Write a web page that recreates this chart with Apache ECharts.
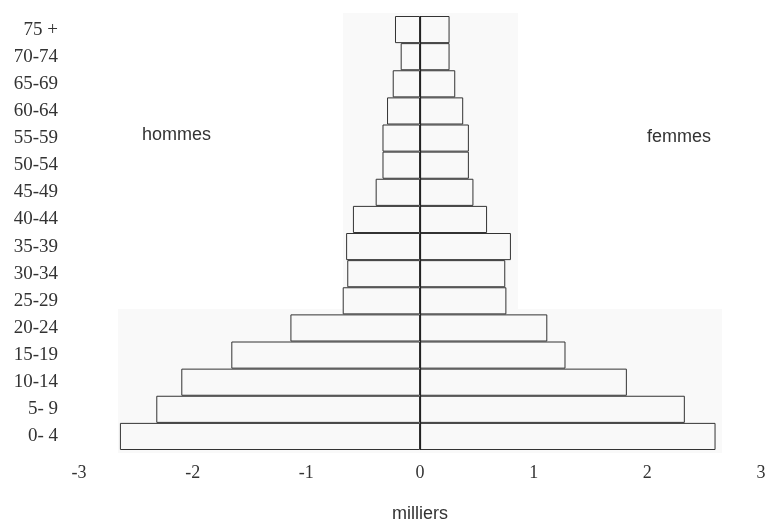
<!DOCTYPE html>
<html>
<head>
<meta charset="utf-8">
<title>Pyramide des âges</title>
<script src="https://cdn.jsdelivr.net/npm/echarts@6/dist/echarts.min.js"></script>
<style>
html, body { margin: 0; padding: 0; background: #fff; }
#chart { width: 767px; height: 520px; }
</style>
</head>
<body>
<div id="chart"></div>
<script>
// groupes d'âge (du bas vers le haut)
var ages = ['0- 4', '5- 9', '10-14', '15-19', '20-24', '25-29', '30-34', '35-39',
            '40-44', '45-49', '50-54', '55-59', '60-64', '65-69', '70-74', '75 +'];
// milliers, hommes en négatif
var hommes = [-2.64, -2.32, -2.10, -1.66, -1.14, -0.68, -0.64, -0.65,
              -0.59, -0.39, -0.33, -0.33, -0.29, -0.24, -0.17, -0.22];
var femmes = [2.60, 2.33, 1.82, 1.28, 1.12, 0.76, 0.75, 0.80,
              0.59, 0.47, 0.43, 0.43, 0.38, 0.31, 0.26, 0.26];
var xTicks = [-3, -2, -1, 0, 1, 2, 3];

var chart = echarts.init(document.getElementById('chart'));

var barStyle = { color: 'rgba(255,255,255,0)', borderColor: '#333', borderWidth: 1 };

chart.setOption({
    animation: false,
    grid: { left: 79, right: 6, top: 16, bottom: 70, containLabel: false, outerBoundsMode: 'none' },
    // léger fond gris du document scanné
    graphic: [
        { type: 'rect', shape: { x: 343, y: 13, width: 175, height: 297 }, style: { fill: '#f9f9f9' }, z: -10 },
        { type: 'rect', shape: { x: 118, y: 309, width: 604, height: 144 }, style: { fill: '#f9f9f9' }, z: -10 },
        { type: 'text', left: 142, top: 126, style: { text: 'hommes', font: '18px "Liberation Sans", Arial, sans-serif', fill: '#333' } },
        { type: 'text', left: 647, top: 128, style: { text: 'femmes', font: '18px "Liberation Sans", Arial, sans-serif', fill: '#333' } }
    ],
    xAxis: {
        type: 'value',
        min: xTicks[0],
        max: xTicks[xTicks.length - 1],
        interval: 1,
        name: 'milliers',
        nameLocation: 'middle',
        nameGap: 55,
        nameTextStyle: { fontFamily: '"Liberation Sans", Arial, sans-serif', fontSize: 18, color: '#333' },
        axisLine: { show: false },
        axisTick: { show: false },
        splitLine: { show: false },
        axisLabel: {
            margin: 14,
            fontFamily: '"Liberation Serif", "Times New Roman", serif',
            fontSize: 18,
            color: '#333'
        }
    },
    yAxis: {
        type: 'category',
        data: ages,
        axisLine: { show: false },
        axisTick: { show: false },
        splitLine: { show: false },
        axisLabel: {
            margin: 21,
            fontFamily: '"Liberation Serif", "Times New Roman", serif',
            fontSize: 19,
            color: '#333'
        }
    },
    series: [
        {
            name: 'hommes',
            type: 'bar',
            data: hommes,
            barGap: '-100%',
            barCategoryGap: 0,
            itemStyle: barStyle,
            markLine: {
                silent: true,
                symbol: 'none',
                label: { show: false },
                lineStyle: { color: '#222', width: 1.2, type: 'solid' },
                data: [{ xAxis: 0 }]
            }
        },
        {
            name: 'femmes',
            type: 'bar',
            data: femmes,
            barGap: '-100%',
            barCategoryGap: 0,
            itemStyle: barStyle
        }
    ]
});
</script>
</body>
</html>
